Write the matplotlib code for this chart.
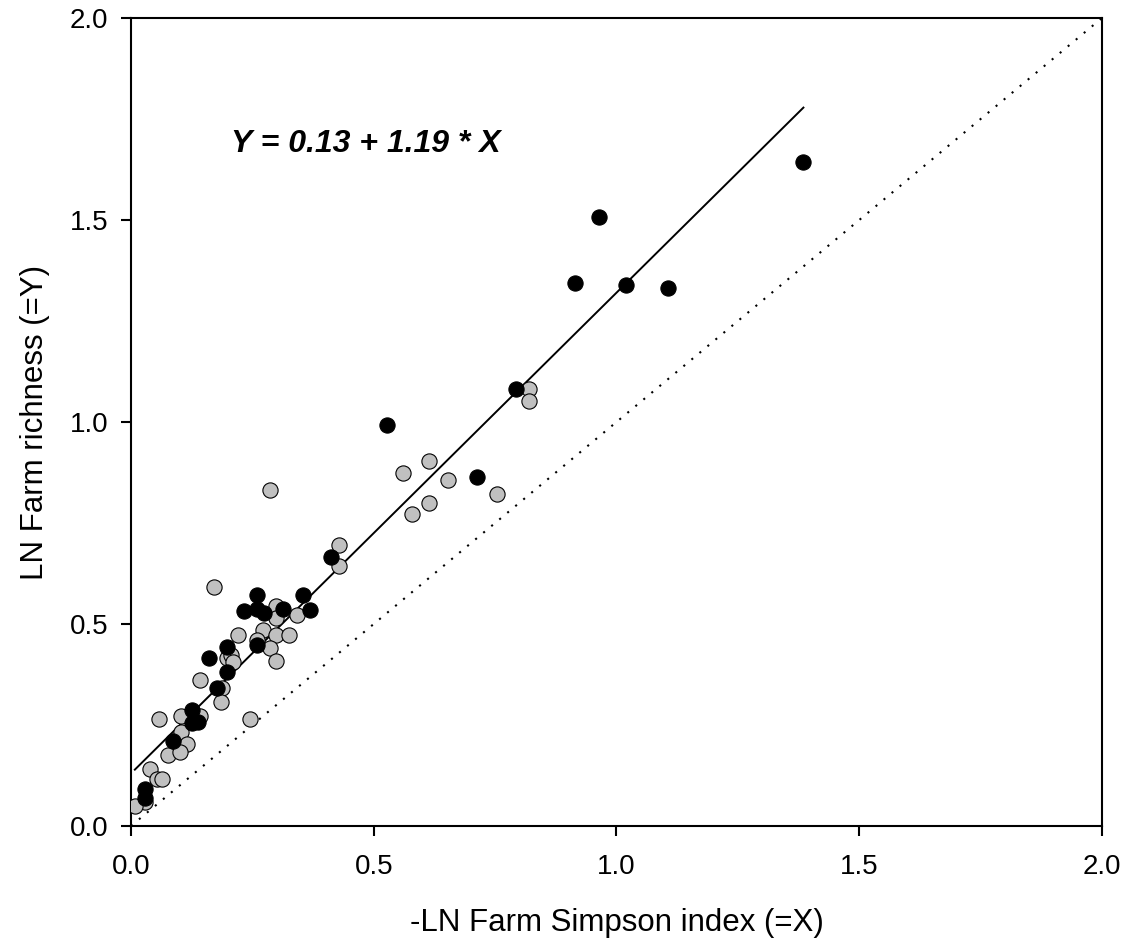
import numpy as np
import matplotlib
matplotlib.use("Agg")
import matplotlib.pyplot as plt

plt.rcParams['font.family'] = ['Liberation Sans', 'DejaVu Sans']

# black points
black_x = [1.385, 0.964, 0.914, 1.020, 1.107, 0.794, 0.527, 0.712, 0.413,
           0.259, 0.355, 0.233, 0.259, 0.274, 0.314, 0.369, 0.197, 0.259,
           0.161, 0.197, 0.178, 0.126, 0.139, 0.125, 0.087, 0.029, 0.029]
black_y = [1.644, 1.508, 1.345, 1.338, 1.332, 1.082, 0.992, 0.865, 0.667,
           0.573, 0.573, 0.533, 0.537, 0.526, 0.536, 0.535, 0.444, 0.448,
           0.415, 0.380, 0.341, 0.287, 0.258, 0.254, 0.210, 0.091, 0.069]

# gray points
gray_x = [0.820, 0.820, 0.561, 0.614, 0.652, 0.614, 0.578, 0.753, 0.286,
          0.428, 0.428, 0.172, 0.299, 0.299, 0.341, 0.221, 0.272, 0.299,
          0.326, 0.259, 0.286, 0.299, 0.197, 0.207, 0.211, 0.142, 0.187,
          0.185, 0.058, 0.104, 0.142, 0.104, 0.115, 0.077, 0.101, 0.039,
          0.053, 0.063, 0.029, 0.008, 0.245]
gray_y = [1.081, 1.053, 0.874, 0.903, 0.857, 0.800, 0.772, 0.822, 0.832,
          0.696, 0.644, 0.591, 0.545, 0.514, 0.522, 0.473, 0.485, 0.473,
          0.473, 0.460, 0.441, 0.408, 0.415, 0.423, 0.405, 0.361, 0.341,
          0.308, 0.264, 0.272, 0.272, 0.233, 0.203, 0.176, 0.184, 0.141,
          0.116, 0.116, 0.060, 0.050, 0.264]

# regression Y = a + b*X
a, b = 0.13, 1.19
x_min, x_max = 0.008, 1.385

ticks = [0.0, 0.5, 1.0, 1.5, 2.0]
tick_labels = ['0.0', '0.5', '1.0', '1.5', '2.0']

fig = plt.figure(figsize=(11.26, 9.41), dpi=100)
ax = fig.add_axes([0.1163, 0.1222, 0.8624, 0.8587])

# 1:1 line
ax.plot([0, 2], [0, 2], color='black', lw=1.5, linestyle=(0, (1, 4)), zorder=1)

# regression line
xl = np.array([x_min, x_max])
ax.plot(xl, a + b * xl, color='black', lw=1.4, zorder=2)

ax.scatter(gray_x, gray_y, s=120, c='#c0c0c0', edgecolors='black', linewidths=0.8, zorder=3)
ax.scatter(black_x, black_y, s=120, c='black', edgecolors='black', linewidths=0.8, zorder=4)

ax.text(0.206, 1.688, 'Y = 0.13 + 1.19 * X', fontsize=23, fontweight='bold',
        fontstyle='italic', va='center', ha='left')

ax.set_xlim(0, 2)
ax.set_ylim(0, 2)
ax.set_xticks(ticks)
ax.set_xticklabels(tick_labels)
ax.set_yticks(ticks)
ax.set_yticklabels(tick_labels)
ax.tick_params(direction='out', length=7, width=1.5, labelsize=20)
ax.tick_params(axis='x', pad=13)
ax.tick_params(axis='y', pad=9.5)
for sp in ax.spines.values():
    sp.set_linewidth(1.5)

ax.set_xlabel('-LN Farm Simpson index (=X)', fontsize=22.5, labelpad=20)
ax.set_ylabel('LN Farm richness (=Y)', fontsize=22.5, labelpad=14)

plt.savefig('out.png', dpi=100)
